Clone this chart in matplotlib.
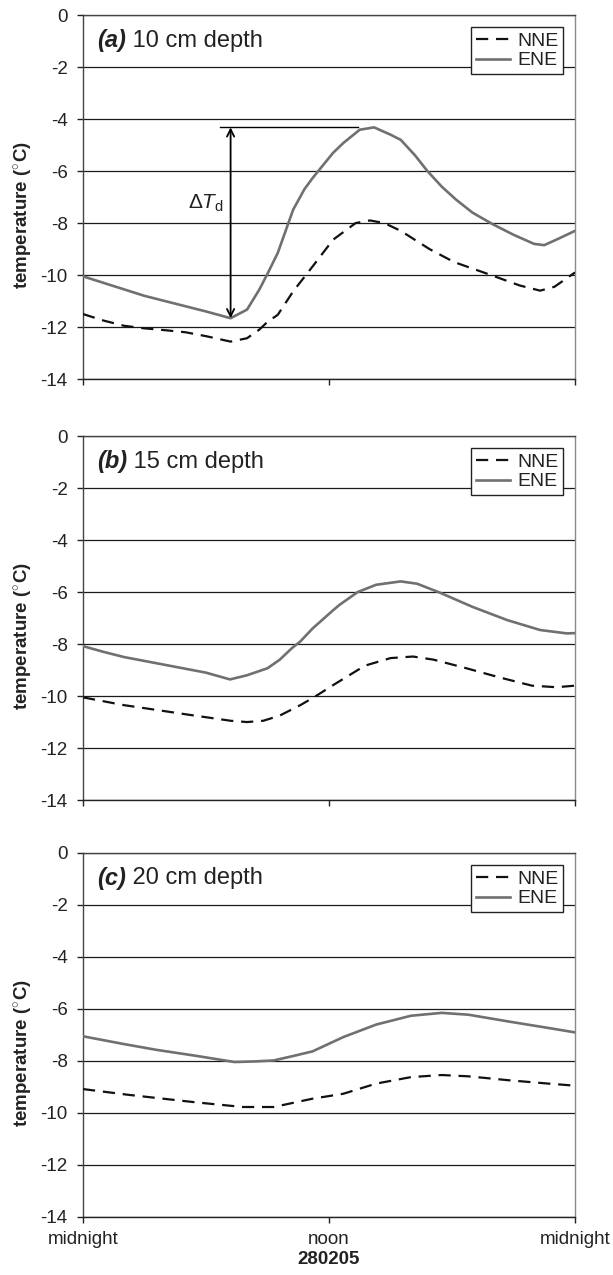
import matplotlib
matplotlib.use('Agg')
import matplotlib.pyplot as plt
import numpy as np

plt.rcParams['font.family'] = ['Liberation Sans', 'DejaVu Sans']
plt.rcParams['axes.unicode_minus'] = False
plt.rcParams['mathtext.fontset'] = 'custom'
plt.rcParams['mathtext.rm'] = 'Liberation Sans'
plt.rcParams['mathtext.it'] = 'Liberation Sans:italic'
plt.rcParams['mathtext.bf'] = 'Liberation Sans:bold'

# hours after midnight, temperature in deg C
a_ene_h = [0, 1, 2, 3, 4, 5, 6, 7.2, 8.0, 8.6, 9.0, 9.5, 10.25, 10.8, 11.2, 11.6,
           12.2, 12.7, 13.5, 14.2, 15.0, 15.5, 16.2, 16.8, 17.5, 18.2, 19.0,
           20.0, 21.0, 22.0, 22.5, 23.2, 24.0]
a_ene = [-10.05, -10.3, -10.55, -10.8, -11.0, -11.2, -11.4, -11.66, -11.33,
         -10.56, -9.95, -9.15, -7.49, -6.7, -6.27, -5.88, -5.3, -4.92, -4.41,
         -4.32, -4.6, -4.8, -5.4, -6.0, -6.6, -7.1, -7.6, -8.05, -8.45, -8.8,
         -8.85, -8.6, -8.3]
a_nne_h = [0, 1, 2, 3, 4, 5, 6, 7.2, 8.0, 8.6, 9.0, 9.5, 10.25, 11.2, 12.2, 13.3,
           14.0, 14.7, 15.5, 16.2, 16.9, 18.1, 19.0, 19.9, 21.3, 22.3, 23.0, 24.0]
a_nne = [-11.5, -11.75, -11.95, -12.05, -12.12, -12.2, -12.35, -12.56, -12.43,
         -12.1, -11.8, -11.53, -10.63, -9.67, -8.64, -8.0, -7.9, -8.0, -8.3,
         -8.65, -9.0, -9.5, -9.75, -10.0, -10.4, -10.6, -10.45, -9.9]

b_ene_h = [0, 1, 2, 3, 4, 5, 6, 7.17, 8.0, 9.0, 9.6, 10.2, 10.6, 11.2, 12.2,
           12.5, 13.4, 14.3, 15.5, 16.3, 17.4, 19.0, 20.7, 22.3, 23.6, 24.0]
b_ene = [-8.08, -8.3, -8.5, -8.65, -8.8, -8.95, -9.1, -9.36, -9.2, -8.93, -8.6,
         -8.15, -7.9, -7.4, -6.7, -6.5, -6.0, -5.72, -5.59, -5.68, -6.02, -6.57,
         -7.08, -7.46, -7.59, -7.58]
b_nne_h = [0, 1, 2, 3.3, 5, 7.2, 8.0, 8.8, 9.6, 10.6, 11.3, 12.2, 13.4, 13.8,
           15.0, 16.1, 17.1, 18.7, 20.3, 21.9, 23.1, 24.0]
b_nne = [-10.05, -10.2, -10.35, -10.5, -10.7, -10.95, -11.0, -10.95, -10.75,
         -10.35, -10.03, -9.58, -9.0, -8.82, -8.54, -8.48, -8.6, -8.93, -9.28,
         -9.6, -9.66, -9.6]

c_ene_h = [0, 1, 2, 3.57, 5.5, 7.39, 8.3, 9.3, 10.3, 11.2, 12.7, 14.3, 16.0,
           17.5, 18.8, 20.75, 22.7, 24.0]
c_ene = [-7.05, -7.2, -7.35, -7.57, -7.8, -8.04, -8.02, -7.98, -7.8, -7.63,
         -7.08, -6.6, -6.26, -6.15, -6.22, -6.48, -6.73, -6.9]
c_nne_h = [0, 2.2, 5.5, 7.8, 9.3, 11.2, 12.7, 14.3, 16.0, 17.5, 18.8, 20.75,
           22.7, 24.0]
c_nne = [-9.08, -9.3, -9.59, -9.77, -9.77, -9.45, -9.26, -8.87, -8.62, -8.54,
         -8.59, -8.74, -8.87, -8.95]

panel_tags = ['(a)', '(b)', '(c)']
panel_titles = [' 10 cm depth', ' 15 cm depth', ' 20 cm depth']
y_ticks = [0, -2, -4, -6, -8, -10, -12, -14]
x_ticks = [0, 12, 24]
x_ticklabels = ['midnight', 'noon', 'midnight']
date_label = '280205'

panels = [
    (a_nne_h, a_nne, a_ene_h, a_ene),
    (b_nne_h, b_nne, b_ene_h, b_ene),
    (c_nne_h, c_nne, c_ene_h, c_ene),
]

fig = plt.figure(figsize=(6.13, 12.75), dpi=100)
# axes boxes in figure fractions (left, bottom, width, height)
boxes = [
    (0.1354, 0.7027, 0.8026, 0.2855),
    (0.1354, 0.3725, 0.8026, 0.2855),
    (0.1354, 0.0455, 0.8026, 0.2855),
]

fs = 13.5
txt = '#222222'

for i, (nh, nv, eh, ev) in enumerate(panels):
    ax = fig.add_axes(boxes[i])
    ax.plot(nh, nv, color='#111111', lw=1.6, ls=(0, (5.5, 3.5)), label='NNE', zorder=3)
    ax.plot(eh, ev, color='#707070', lw=1.9, label='ENE', zorder=3)

    ax.set_xlim(0, 24)
    ax.set_ylim(-14, 0)
    ax.set_yticks(y_ticks)
    ax.set_yticklabels([str(t) for t in y_ticks])
    ax.set_xticks(x_ticks)
    if i == 2:
        ax.set_xticklabels(x_ticklabels)
        ax.set_xlabel(date_label, fontsize=fs, fontweight='bold', color=txt, labelpad=2)
    else:
        ax.set_xticklabels([])
    ax.tick_params(direction='out', length=4, width=1, colors='#222222',
                   labelsize=fs, labelcolor=txt)
    ax.tick_params(axis='y', pad=7)
    ax.tick_params(axis='x', pad=6)
    ax.yaxis.grid(True, color='#1a1a1a', lw=0.9)
    ax.set_axisbelow(True)
    for s in ['top', 'left']:
        ax.spines[s].set_color('#444444')
    ax.spines['right'].set_color('#8a8a8a')
    ax.spines['bottom'].set_color('#222222')
    for s in ax.spines.values():
        s.set_linewidth(1.0)

    ax.set_ylabel(r'temperature ($\mathbf{^{\circ}}$C)', fontsize=fs, fontweight='bold',
                  color=txt)
    ax.yaxis.set_label_coords(-0.097, 0.45)

    tag = ax.text(0.028, 0.93, panel_tags[i], transform=ax.transAxes, fontsize=17,
                  fontweight='bold', fontstyle='italic', color=txt, va='center', ha='left')
    ax.annotate(panel_titles[i], xy=(1, 0.5), xycoords=tag, fontsize=17,
                color=txt, va='center', ha='left')

    leg = ax.legend(loc='upper right', bbox_to_anchor=(0.976, 0.966), borderaxespad=0,
                    fontsize=14, handlelength=1.75, handletextpad=0.35,
                    labelspacing=0.1, borderpad=0.25, fancybox=False, framealpha=1,
                    edgecolor='#222222')
    leg.get_frame().set_linewidth(1.0)
    for t in leg.get_texts():
        t.set_color(txt)

    if i == 0:
        # Delta T_d: from the morning minimum to the afternoon maximum of ENE
        ev_arr = np.array(ev)
        eh_arr = np.array(eh)
        morning = eh_arr < 12
        k_min = np.argmin(np.where(morning, ev_arr, np.inf))
        k_max = np.argmax(ev_arr)
        x_arr = eh_arr[k_min]
        ax.annotate('', xy=(x_arr, ev_arr[k_max]), xytext=(x_arr, ev_arr[k_min]),
                    arrowprops=dict(arrowstyle='<->', color='black', lw=1.3,
                                    shrinkA=0, shrinkB=0, mutation_scale=13), zorder=4)
        ax.plot([x_arr - 0.5, eh_arr[k_max] - 0.8], [ev_arr[k_max]] * 2,
                color='black', lw=1.0, zorder=4)
        ax.text(x_arr - 0.3, (ev_arr[k_max] + ev_arr[k_min]) / 2 + 0.75,
                r'$\Delta\mathit{T}_{\mathrm{d}}$', fontsize=15, color=txt,
                ha='right', va='center')

fig.savefig('out.png', dpi=100)
